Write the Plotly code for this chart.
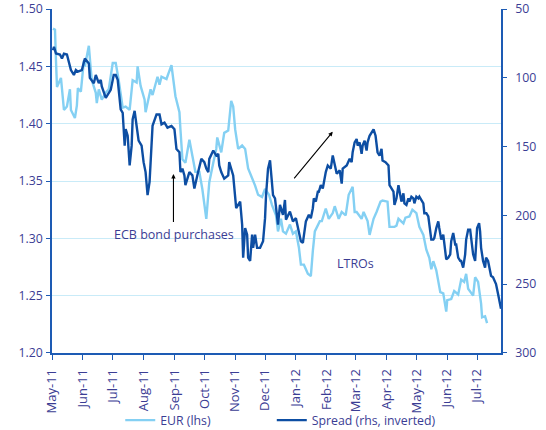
import plotly.graph_objects as go

# EUR/USD (left axis)
eur_dates = [
    "2011-05-02", "2011-05-04", "2011-05-05", "2011-05-06", "2011-05-10", "2011-05-13", "2011-05-16",
    "2011-05-19", "2011-05-20", "2011-05-24", "2011-05-26", "2011-05-27", "2011-05-30", "2011-06-02",
    "2011-06-03", "2011-06-07", "2011-06-09", "2011-06-10", "2011-06-14", "2011-06-15", "2011-06-17",
    "2011-06-20", "2011-06-24", "2011-06-27", "2011-07-01", "2011-07-04", "2011-07-07", "2011-07-11",
    "2011-07-14", "2011-07-18", "2011-07-21", "2011-07-25", "2011-07-26", "2011-07-29", "2011-08-02",
    "2011-08-03", "2011-08-08", "2011-08-10", "2011-08-15", "2011-08-17", "2011-08-19", "2011-08-24",
    "2011-08-26", "2011-08-29", "2011-09-02", "2011-09-06", "2011-09-07", "2011-09-09", "2011-09-12",
    "2011-09-16", "2011-09-19", "2011-09-22", "2011-09-26", "2011-09-29", "2011-10-03", "2011-10-06",
    "2011-10-10", "2011-10-13", "2011-10-14", "2011-10-18", "2011-10-21", "2011-10-25", "2011-10-28",
    "2011-10-30", "2011-11-01", "2011-11-04", "2011-11-08", "2011-11-11", "2011-11-14", "2011-11-17",
    "2011-11-21", "2011-11-24", "2011-11-28", "2011-12-01", "2011-12-05", "2011-12-08", "2011-12-12",
    "2011-12-14", "2011-12-17", "2011-12-19", "2011-12-22", "2011-12-26", "2011-12-29", "2012-01-01",
    "2012-01-04", "2012-01-06", "2012-01-09", "2012-01-13", "2012-01-16", "2012-01-18", "2012-01-20",
    "2012-01-25", "2012-01-27", "2012-01-31", "2012-02-03", "2012-02-07", "2012-02-09", "2012-02-13",
    "2012-02-16", "2012-02-20", "2012-02-23", "2012-02-27", "2012-02-29", "2012-03-02", "2012-03-07",
    "2012-03-09", "2012-03-13", "2012-03-15", "2012-03-19", "2012-03-22", "2012-03-26", "2012-03-28",
    "2012-04-02", "2012-04-04", "2012-04-09", "2012-04-11", "2012-04-13", "2012-04-18", "2012-04-20",
    "2012-04-24", "2012-04-27", "2012-05-01", "2012-05-04", "2012-05-08", "2012-05-11", "2012-05-14",
    "2012-05-16", "2012-05-18", "2012-05-21", "2012-05-25", "2012-05-28", "2012-05-31", "2012-06-01",
    "2012-06-05", "2012-06-08", "2012-06-12", "2012-06-15", "2012-06-18", "2012-06-20", "2012-06-22",
    "2012-06-27", "2012-06-29", "2012-07-02", "2012-07-05", "2012-07-06", "2012-07-09", "2012-07-11",
]
eur_values = [
    1.483, 1.482, 1.455, 1.432, 1.440, 1.412, 1.415,
    1.430, 1.412, 1.405, 1.416, 1.431, 1.428, 1.455,
    1.450, 1.468, 1.447, 1.438, 1.427, 1.418, 1.430,
    1.421, 1.427, 1.430, 1.453, 1.453, 1.438, 1.414,
    1.415, 1.412, 1.438, 1.436, 1.450, 1.433, 1.421,
    1.410, 1.430, 1.425, 1.441, 1.434, 1.441, 1.439,
    1.444, 1.451, 1.424, 1.410, 1.395, 1.369, 1.366,
    1.386, 1.372, 1.358, 1.358, 1.343, 1.317, 1.349,
    1.366, 1.378, 1.388, 1.375, 1.392, 1.394, 1.420,
    1.415, 1.395, 1.378, 1.381, 1.378, 1.361, 1.355,
    1.346, 1.338, 1.336, 1.343, 1.338, 1.329, 1.320,
    1.306, 1.317, 1.306, 1.304, 1.312, 1.304, 1.306,
    1.292, 1.277, 1.277, 1.269, 1.267, 1.289, 1.306,
    1.315, 1.315, 1.326, 1.317, 1.322, 1.328, 1.317,
    1.323, 1.320, 1.338, 1.345, 1.323, 1.323, 1.317,
    1.323, 1.315, 1.303, 1.317, 1.323, 1.332, 1.333,
    1.332, 1.310, 1.310, 1.311, 1.317, 1.313, 1.318,
    1.319, 1.325, 1.322, 1.310, 1.303, 1.290, 1.283,
    1.273, 1.280, 1.272, 1.253, 1.252, 1.236, 1.246,
    1.247, 1.254, 1.251, 1.264, 1.262, 1.269, 1.256,
    1.250, 1.266, 1.262, 1.243, 1.231, 1.232, 1.226,
]

# Spread in bp (right axis, inverted)
spread_dates = [
    "2011-05-02", "2011-05-03", "2011-05-05", "2011-05-09", "2011-05-11", "2011-05-13", "2011-05-16",
    "2011-05-20", "2011-05-23", "2011-05-25", "2011-05-27", "2011-05-31", "2011-06-03", "2011-06-07",
    "2011-06-08", "2011-06-12", "2011-06-14", "2011-06-17", "2011-06-19", "2011-06-20", "2011-06-24",
    "2011-06-25", "2011-06-29", "2011-07-02", "2011-07-04", "2011-07-06", "2011-07-07", "2011-07-09",
    "2011-07-11", "2011-07-13", "2011-07-14", "2011-07-16", "2011-07-18", "2011-07-20", "2011-07-21",
    "2011-07-23", "2011-07-25", "2011-07-27", "2011-07-30", "2011-08-01", "2011-08-03", "2011-08-04",
    "2011-08-05", "2011-08-07", "2011-08-09", "2011-08-10", "2011-08-14", "2011-08-17", "2011-08-19",
    "2011-08-22", "2011-08-25", "2011-08-29", "2011-09-01", "2011-09-03", "2011-09-06", "2011-09-07",
    "2011-09-09", "2011-09-11", "2011-09-12", "2011-09-16", "2011-09-19", "2011-09-21", "2011-09-24",
    "2011-09-28", "2011-10-01", "2011-10-03", "2011-10-05", "2011-10-06", "2011-10-10", "2011-10-13",
    "2011-10-15", "2011-10-16", "2011-10-18", "2011-10-21", "2011-10-25", "2011-10-26", "2011-10-30",
    "2011-11-01", "2011-11-02", "2011-11-06", "2011-11-08", "2011-11-09", "2011-11-11", "2011-11-13",
    "2011-11-14", "2011-11-16", "2011-11-18", "2011-11-19", "2011-11-21", "2011-11-23", "2011-11-26",
    "2011-11-29", "2011-12-01", "2011-12-02", "2011-12-04", "2011-12-06", "2011-12-07", "2011-12-09",
    "2011-12-11", "2011-12-14", "2011-12-16", "2011-12-17", "2011-12-19", "2011-12-21", "2011-12-22",
    "2011-12-26", "2011-12-29", "2012-01-01", "2012-01-03", "2012-01-04", "2012-01-06", "2012-01-08",
    "2012-01-11", "2012-01-14", "2012-01-16", "2012-01-18", "2012-01-19", "2012-01-21", "2012-01-23",
    "2012-01-24", "2012-01-26", "2012-01-28", "2012-01-31", "2012-02-02", "2012-02-05", "2012-02-07",
    "2012-02-11", "2012-02-14", "2012-02-16", "2012-02-17", "2012-02-21", "2012-02-24", "2012-02-26",
    "2012-02-27", "2012-02-29", "2012-03-02", "2012-03-03", "2012-03-05", "2012-03-07", "2012-03-08",
    "2012-03-10", "2012-03-12", "2012-03-13", "2012-03-15", "2012-03-17", "2012-03-19", "2012-03-21",
    "2012-03-23", "2012-03-25", "2012-03-27", "2012-03-28", "2012-03-31", "2012-04-03", "2012-04-04",
    "2012-04-06", "2012-04-08", "2012-04-09", "2012-04-11", "2012-04-13", "2012-04-14", "2012-04-16",
    "2012-04-18", "2012-04-19", "2012-04-21", "2012-04-23", "2012-04-24", "2012-04-26", "2012-04-28",
    "2012-04-29", "2012-05-01", "2012-05-03", "2012-05-04", "2012-05-06", "2012-05-08", "2012-05-09",
    "2012-05-11", "2012-05-13", "2012-05-14", "2012-05-16", "2012-05-18", "2012-05-19", "2012-05-21",
    "2012-05-23", "2012-05-24", "2012-05-26", "2012-05-28", "2012-05-29", "2012-05-31", "2012-06-02",
    "2012-06-04", "2012-06-05", "2012-06-07", "2012-06-09", "2012-06-10", "2012-06-12", "2012-06-14",
    "2012-06-15", "2012-06-17", "2012-06-19", "2012-06-20", "2012-06-22", "2012-06-24", "2012-06-25",
    "2012-06-27", "2012-06-29", "2012-06-30", "2012-07-01", "2012-07-03", "2012-07-04", "2012-07-05",
    "2012-07-07", "2012-07-09", "2012-07-10", "2012-07-12", "2012-07-14", "2012-07-15", "2012-07-17",
    "2012-07-19", "2012-07-20", "2012-07-22", "2012-07-24", "2012-07-25",
]
spread_values = [
    79.9, 77.5, 82.3, 83.0, 85.9, 82.5, 83.0,
    94.3, 97.9, 94.3, 95.5, 94.3, 85.9, 89.5,
    100.0, 103.9, 97.9, 103.9, 101.5, 106.2, 114.6,
    113.4, 108.7, 97.9, 97.9, 101.5, 111.0, 123.0,
    125.4, 149.3, 137.3, 142.0, 163.7, 149.3, 130.2,
    124.0, 135.0, 145.7, 149.3, 161.3, 168.5, 178.0,
    185.2, 175.7, 146.9, 134.9, 126.6, 126.6, 133.8,
    132.6, 136.2, 135.0, 137.4, 151.7, 154.1, 168.5,
    166.0, 170.9, 178.0, 168.5, 170.9, 180.5, 170.9,
    158.9, 161.3, 166.0, 168.5, 158.9, 152.9, 156.5,
    155.3, 163.7, 168.5, 173.3, 170.9, 161.3, 170.9,
    185.2, 194.8, 190.0, 206.8, 230.7, 209.2, 214.0,
    230.7, 233.1, 214.0, 223.6, 214.0, 223.6, 223.6,
    218.8, 202.0, 185.2, 166.0, 160.0, 168.5, 185.2,
    187.6, 206.8, 192.4, 194.8, 199.6, 188.8, 203.2,
    197.2, 204.4, 202.0, 209.2, 210.4, 218.8, 220.0,
    204.4, 199.6, 202.0, 194.8, 187.6, 190.0, 182.8,
    182.8, 178.0, 180.4, 168.5, 163.7, 166.0, 156.5,
    169.7, 167.3, 176.9, 166.0, 163.7, 158.9, 161.3,
    154.1, 146.9, 144.5, 149.3, 146.9, 155.3, 149.3,
    145.7, 152.9, 146.9, 142.1, 139.7, 137.4, 142.1,
    154.1, 156.5, 151.7, 160.1, 161.3, 163.7, 178.0,
    180.4, 182.8, 192.4, 187.6, 178.0, 182.8, 190.0,
    184.0, 191.2, 192.4, 187.6, 190.0, 186.4, 187.6,
    191.2, 186.4, 187.6, 186.4, 188.8, 191.2, 198.4,
    198.4, 200.8, 206.8, 217.6, 217.6, 216.4, 209.2,
    204.4, 209.2, 217.6, 214.0, 220.0, 232.0, 230.7,
    228.3, 218.8, 212.8, 221.2, 221.2, 230.7, 233.1,
    233.1, 238.0, 228.3, 217.6, 210.4, 210.4, 216.4,
    228.3, 233.1, 216.4, 209.2, 205.6, 211.6, 223.6,
    233.1, 238.0, 230.7, 233.1, 240.3, 243.9, 245.0,
    248.7, 249.9, 257.0, 266.6, 267.8,
]

left_ticks = [1.20, 1.25, 1.30, 1.35, 1.40, 1.45, 1.50]
right_ticks = [50, 100, 150, 200, 250, 300]

TEXT = "#3b3d94"
AXIS = "#1d5bb4"
GRID = "#c9ebf8"
LIGHT = "#84d0f3"
DARK = "#0d4ea3"
FONT = "Open Sans"

fig = go.Figure()
fig.add_trace(go.Scatter(x=eur_dates, y=eur_values, name="EUR (lhs)", mode="lines",
                         line=dict(color=LIGHT, width=2.4), yaxis="y", legend="legend"))
fig.add_trace(go.Scatter(x=spread_dates, y=spread_values, name="Spread (rhs, inverted)", mode="lines",
                         line=dict(color=DARK, width=2.4), yaxis="y2", legend="legend2"))

fig.add_annotation(x="2011-08-31", y=1.356, ax="2011-08-31", ay=1.313, xref="x", yref="y",
                   axref="x", ayref="y", showarrow=True, arrowhead=2, arrowsize=0.8,
                   arrowwidth=1.1, arrowcolor="black", text="")
fig.add_annotation(x="2012-02-07", y=1.393, ax="2011-12-29", ay=1.351, xref="x", yref="y",
                   axref="x", ayref="y", showarrow=True, arrowhead=2, arrowsize=0.8,
                   arrowwidth=1.1, arrowcolor="black", text="")
fig.add_annotation(x="2011-09-01", y=1.303, xref="x", yref="y", text="ECB bond purchases",
                   showarrow=False, font=dict(color=TEXT, size=12.5, family=FONT))
fig.add_annotation(x="2012-03-01", y=1.278, xref="x", yref="y", text="LTROs",
                   showarrow=False, font=dict(color=TEXT, size=12.5, family=FONT))

legend_style = dict(orientation="h", yanchor="middle", y=-0.195, xanchor="left",
                    font=dict(size=12.3, color=TEXT, family=FONT),
                    bgcolor="rgba(0,0,0,0)", borderwidth=0)

fig.update_layout(
    template="none",
    width=546, height=430,
    margin=dict(l=52, r=45, t=9, b=77, autoexpand=False),
    paper_bgcolor="white", plot_bgcolor="white",
    font=dict(family=FONT, size=12, color=TEXT),
    showlegend=True,
    legend=dict(x=0.152, **legend_style),
    legend2=dict(x=0.4895, **legend_style),
    xaxis=dict(type="date", range=["2011-05-01", "2012-07-25"], tick0="2011-05-01", dtick="M1",
               tickformat="%b-%y", tickangle=-90, showgrid=False, showline=True,
               linecolor=AXIS, linewidth=1.5, ticks="outside", ticklen=5, tickcolor=AXIS,
               tickfont=dict(size=13, color=TEXT, family=FONT), zeroline=False,
               ticklabelstandoff=4, automargin=False),
    yaxis=dict(range=[1.1999, 1.5001], tickvals=left_ticks, tickformat=".2f", showgrid=True,
               gridcolor=GRID, gridwidth=1.2, showline=True, linecolor=AXIS, linewidth=1.5,
               ticks="outside", ticklen=4, tickcolor=AXIS, zeroline=False,
               ticklabelstandoff=1, ticklabeloverflow="allow", automargin=False,
               tickfont=dict(size=12.3, color=TEXT, family=FONT)),
    yaxis2=dict(range=[300.05, 49.95], tickvals=right_ticks, overlaying="y", side="right",
                showgrid=False, showline=True, linecolor=AXIS, linewidth=1.5,
                ticks="outside", ticklen=4, tickcolor=AXIS, zeroline=False,
                ticklabelstandoff=6, ticklabeloverflow="allow", automargin=False,
                tickfont=dict(size=12.3, color=TEXT, family=FONT)),
)

fig.write_html("out.html", config={"displayModeBar": False},
               post_script="document.body.style.margin='0';document.body.style.overflow='hidden';")
